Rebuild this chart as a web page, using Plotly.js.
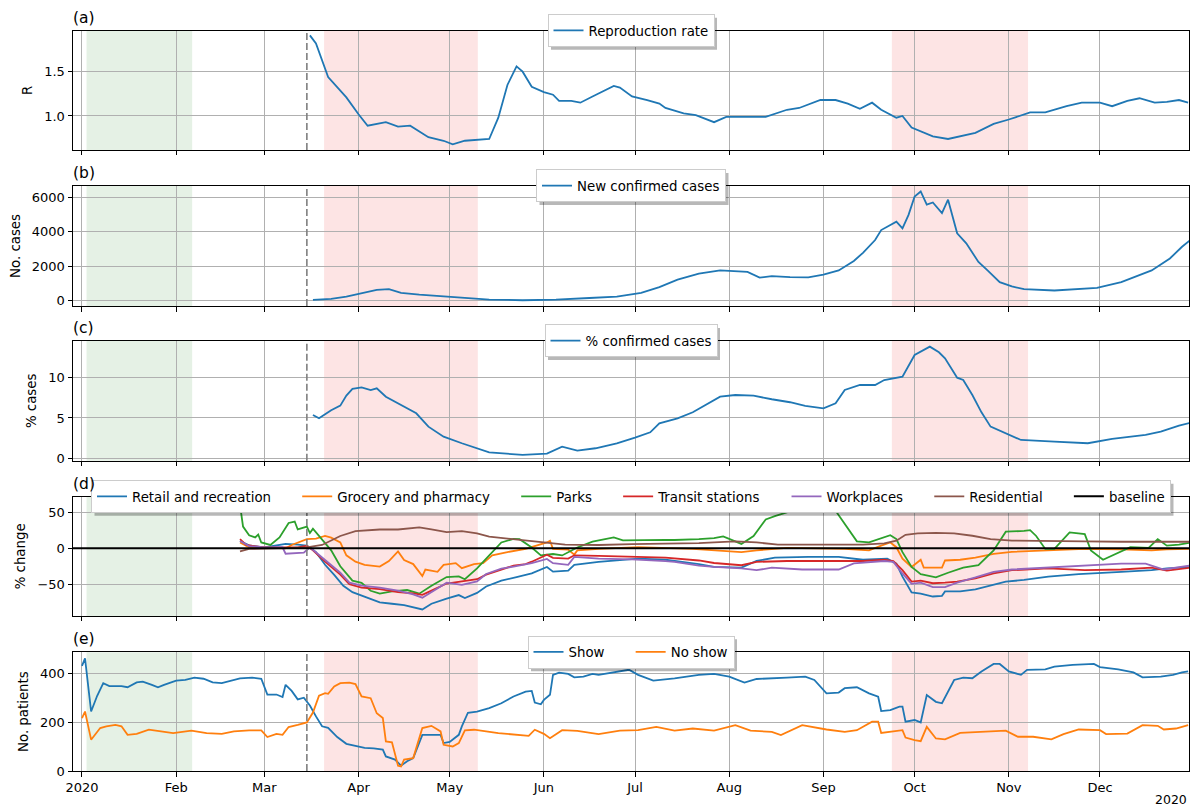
<!DOCTYPE html>
<html><head><meta charset="utf-8">
<script src="https://cdn.plot.ly/plotly-3.0.1.min.js"></script>
<style>html,body{margin:0;padding:0;background:#fff}#chart{width:1194px;height:809px}</style>
</head><body><div id="chart"></div>
<script>
const D = s => '2020-' + s;
// ---------- (a) Reproduction rate ----------
const rDates = ['03-16','03-18','03-22','03-28','04-01','04-04','04-10','04-14','04-18','04-24','04-29','05-02','05-06','05-14','05-17','05-20','05-23','05-25','05-28','06-01','06-04','06-06','06-10','06-13','06-17','06-20','06-24','06-26','06-30','07-05','07-09','07-11','07-17','07-21','07-27','07-31','08-06','08-13','08-20','08-24','08-31','09-05','09-09','09-13','09-17','09-20','09-25','09-27','09-30','10-07','10-12','10-18','10-21','10-27','11-01','11-08','11-13','11-20','11-25','12-01','12-05','12-10','12-14','12-19','12-23','12-27','12-30'];
const rValues = [1.91,1.82,1.44,1.21,1.02,0.89,0.93,0.88,0.89,0.76,0.72,0.68,0.72,0.74,0.98,1.35,1.56,1.50,1.33,1.27,1.24,1.17,1.17,1.15,1.22,1.27,1.34,1.32,1.22,1.18,1.14,1.09,1.03,1.01,0.93,0.99,0.99,0.99,1.07,1.09,1.18,1.18,1.14,1.08,1.15,1.07,0.98,1.00,0.87,0.77,0.74,0.79,0.81,0.91,0.96,1.04,1.04,1.11,1.15,1.15,1.11,1.17,1.20,1.15,1.16,1.18,1.15];
// ---------- (b) New confirmed cases ----------
const casesDates = ['03-17','03-23','03-28','04-03','04-07','04-11','04-15','04-21','04-29','05-06','05-14','05-25','06-05','06-16','06-25','07-03','07-09','07-15','07-22','07-29','08-03','08-07','08-11','08-15','08-21','08-27','09-01','09-06','09-11','09-14','09-18','09-20','09-25','09-27','09-29','10-01','10-03','10-05','10-07','10-10','10-12','10-15','10-18','10-22','10-25','10-29','11-02','11-06','11-16','11-30','12-08','12-18','12-24','12-28','12-31'];
const casesValues = [40,100,230,490,620,660,450,350,250,140,60,20,60,150,230,450,780,1210,1560,1750,1700,1660,1330,1420,1360,1345,1500,1750,2300,2770,3510,4090,4580,4190,4970,6040,6330,5560,5690,5070,5850,3900,3320,2240,1750,1070,820,660,585,740,1070,1750,2440,3120,3550];
// ---------- (c) % confirmed cases ----------
const pctDates = ['03-17','03-19','03-21','03-23','03-26','03-28','03-30','04-02','04-05','04-07','04-10','04-15','04-20','04-24','04-29','05-05','05-14','05-25','06-02','06-07','06-12','06-18','06-25','07-01','07-06','07-09','07-15','07-20','07-24','07-29','08-03','08-09','08-15','08-21','08-26','09-01','09-05','09-08','09-13','09-18','09-21','09-27','10-01','10-06','10-09','10-11','10-15','10-17','10-20','10-23','10-26','10-31','11-05','11-16','11-27','12-05','12-16','12-21','12-27','12-31'];
const pctValues = [5.37,4.96,5.46,5.96,6.53,7.77,8.6,8.8,8.47,8.68,7.64,6.61,5.58,3.92,2.68,1.86,0.74,0.41,0.57,1.44,0.94,1.24,1.86,2.56,3.22,4.34,4.96,5.71,6.61,7.64,7.85,7.77,7.32,6.95,6.49,6.2,6.82,8.47,9.09,9.09,9.71,10.12,12.82,13.85,13.15,12.4,10.0,9.71,7.85,5.7,3.92,3.1,2.27,2.06,1.86,2.4,2.89,3.3,4.04,4.42];
// ---------- (d) Mobility (% change) ----------
const retailDates = ['02-22','02-25','03-01','03-08','03-12','03-15','03-18','03-21','03-24','03-27','03-30','04-03','04-08','04-12','04-16','04-22','04-25','04-30','05-04','05-06','05-10','05-13','05-18','05-23','05-28','06-02','06-04','06-09','06-11','06-19','06-30','07-02','07-11','07-14','07-22','07-27','08-05','08-10','08-16','08-27','09-06','09-14','09-22','09-25','09-27','09-30','10-03','10-07','10-10','10-11','10-16','10-21','10-27','10-31','11-06','11-14','11-24','12-01','12-08','12-18','12-23','12-31'];
const retailValues = [10,4,1,6,5,3.6,-5.4,-23,-37,-52,-61,-67,-75,-77,-79,-85,-77,-70,-65,-69,-62,-53,-45,-40,-35,-26,-32.5,-31,-23,-19,-15,-14.5,-16,-17.7,-22,-26,-27,-17.7,-13,-12,-12,-16,-14.5,-21.4,-39.5,-61.4,-63,-67,-66,-60,-60,-57,-51,-46.4,-44,-39.5,-36,-34,-32.7,-30.5,-28,-26];
const groceryDates = ['02-22','02-25','03-08','03-10','03-15','03-18','03-21','03-23','03-26','03-28','03-31','04-03','04-08','04-11','04-14','04-16','04-19','04-22','04-23','04-27','04-29','05-03','05-05','05-09','05-12','05-15','05-20','05-26','06-02','06-03','06-04','06-09','06-11','06-12','06-19','07-02','07-20','08-05','08-10','08-20','09-08','09-16','09-20','09-23','09-25','09-27','09-30','10-03','10-04','10-10','10-11','10-16','10-21','10-27','11-02','11-14','11-26','12-08','12-18','12-23','12-31'];
const groceryValues = [8,1.3,0,4.5,12.5,13.4,17,14.7,8,-9.8,-18.7,-23,-25.4,-17.8,-4.5,-16.4,-22,-38.6,-29.6,-32.8,-23,-20.7,-27.7,-22,-20.7,-9.8,-5.4,-1,8,10.3,-1,-1.8,-8.9,-3,-1,1.4,-1,-5.5,-3,0.5,-1,-3,3.6,8,1.4,-14.5,-26,-16,-27,-27,-17,-16,-13,-7.7,-5,-3,-1,-1.4,-3,-1.4,-1];
const parksDates = ['02-21','02-22','02-23','02-25','02-27','02-28','02-29','03-03','03-06','03-09','03-11','03-12','03-15','03-16','03-17','03-20','03-23','03-26','03-30','04-02','04-05','04-08','04-12','04-17','04-21','04-25','04-30','05-04','05-06','05-10','05-14','05-18','05-22','05-24','05-28','05-31','06-04','06-07','06-12','06-17','06-24','06-27','07-11','07-14','07-22','07-27','07-30','08-05','08-09','08-13','08-16','08-21','08-27','09-02','09-05','09-08','09-12','09-16','09-19','09-23','09-25','09-27','09-30','10-03','10-08','10-12','10-17','10-22','10-27','10-31','11-06','11-08','11-10','11-13','11-16','11-21','11-26','11-28','12-02','12-05','12-11','12-17','12-20','12-23','12-27','12-31'];
const parksValues = [78,60,30,18,15,19,8,4.5,15,35,37,26,30,21,27,12,-3,-25,-45,-48,-59,-63,-60,-58,-63,-52,-40,-39,-43,-28,-10,8,13,12.5,1,-10,-8,-10,1,9,15,11,11.6,11.4,12.5,14,16.4,6,17,40,44.5,51,53.6,53.6,52,33,9.5,8,12.7,18,12.7,-5.5,-26,-36,-40.5,-34,-27,-23.6,-3,23,24,25,17,-1,-1,22,19.5,-3,-16,-10,1.4,0.5,12.7,3.6,5,8];
const transitDates = ['02-22','02-24','03-01','03-12','03-15','03-17','03-21','03-26','03-29','04-02','04-08','04-14','04-19','04-22','04-25','04-30','05-05','05-10','05-13','05-18','05-22','05-26','05-28','06-02','06-04','06-09','06-11','06-19','06-30','07-11','07-22','07-27','08-05','08-10','08-20','09-02','09-14','09-21','09-24','09-27','09-30','10-03','10-07','10-11','10-15','10-21','10-27','11-02','11-14','11-26','12-08','12-18','12-23','12-31'];
const transitValues = [12.5,4.5,1,1.3,3.6,-3,-18.7,-36.6,-50,-54.6,-56.7,-61,-62.5,-64.7,-58.8,-49,-46,-43,-36.6,-30,-24,-22,-18.7,-9,-13.4,-14.3,-9.8,-10.7,-11.5,-13,-17,-20.5,-23.6,-19,-17.7,-17.7,-17.7,-16,-17.7,-30.5,-46.4,-45,-48.6,-47.7,-46.4,-41.8,-35,-30.5,-28,-30.5,-29.5,-27,-31,-27];
const workDates = ['02-22','02-25','03-01','03-07','03-08','03-14','03-16','03-18','03-21','03-26','03-29','04-02','04-08','04-14','04-19','04-22','04-25','04-30','05-05','05-10','05-13','05-18','05-22','05-28','06-02','06-04','06-09','06-11','06-19','06-30','07-11','07-14','07-22','07-27','08-05','08-10','08-15','08-25','09-06','09-11','09-21','09-24','09-27','09-30','10-03','10-07','10-11','10-15','10-21','10-27','11-02','11-14','11-26','12-08','12-16','12-22','12-31'];
const workValues = [10,3,1,1.3,-7.6,-6.2,1.3,-5.4,-16.4,-34,-47.8,-52,-54.6,-58.8,-64,-68.6,-61,-47.8,-50.8,-46,-35.7,-28.4,-25.4,-20.7,-14.8,-20.7,-23,-12,-14.3,-15.5,-18,-19,-24,-26,-28,-30.5,-27,-29.5,-29.5,-21,-17.7,-19,-35,-49.5,-47.7,-54,-54,-47.7,-40.5,-32.7,-29.5,-27,-23.6,-21.4,-21.4,-29.5,-23.6];
const resDates = ['02-22','02-25','03-08','03-15','03-20','03-26','03-31','04-08','04-14','04-21','04-25','04-30','05-05','05-10','05-14','05-23','06-01','06-08','06-19','06-30','07-11','07-22','07-27','08-03','08-10','08-17','09-02','09-14','09-21','09-25','09-28','10-02','10-08','10-14','10-20','10-26','11-02','11-14','11-26','12-08','12-21','12-31'];
const resValues = [-4.5,-1,0,1.3,4.5,17,23.7,26,26,29,26,22.3,23.7,20.6,16,11.6,8,5,4.5,5.8,6,7,8,9.5,8,5,5,5,6.8,10.5,18.6,20.5,21.4,20.5,17.3,12.7,10.5,9.5,9.5,9,8.6,9];
const baselineDates = ['2019-12-29','2020-12-31'];
const baselineValues = [0, 0];
// ---------- (e) Patients ----------
const showDates = ['01-01','01-02','01-04','01-06','01-08','01-10','01-14','01-16','01-19','01-21','01-24','01-26','01-28','02-01','02-04','02-07','02-10','02-13','02-16','02-19','02-22','02-26','02-29','03-02','03-05','03-07','03-08','03-10','03-12','03-14','03-16','03-18','03-20','03-22','03-25','03-28','03-31','04-03','04-06','04-09','04-10','04-13','04-15','04-17','04-19','04-22','04-28','04-29','05-01','05-04','05-05','05-07','05-10','05-14','05-18','05-22','05-26','05-28','05-29','05-31','06-01','06-03','06-04','06-06','06-09','06-11','06-14','06-17','06-19','06-24','06-29','07-02','07-07','07-14','07-22','07-27','08-01','08-06','08-10','08-20','08-26','08-29','09-02','09-06','09-08','09-12','09-16','09-19','09-20','09-23','09-26','09-27','09-28','10-01','10-03','10-05','10-08','10-10','10-14','10-17','10-20','10-23','10-27','10-29','11-01','11-05','11-07','11-13','11-16','11-22','11-29','12-01','12-07','12-12','12-15','12-21','12-25','12-28','12-30'];
const showValues = [433,464,245,310,362,350,350,345,365,368,355,345,355,372,375,385,380,365,362,372,382,385,380,315,315,305,355,330,295,302,270,225,184,178,140,112,105,95,93,88,60,47,22,40,53,149,149,115,120,149,184,240,245,259,279,307,327,330,282,275,293,314,396,405,400,386,389,400,396,405,417,396,372,382,396,400,389,364,379,385,389,375,320,323,341,345,320,306,247,251,265,265,203,210,200,313,285,279,375,385,382,410,441,441,410,396,417,419,430,437,441,428,419,406,386,389,396,406,410];
const noShowDates = ['01-01','01-02','01-04','01-07','01-09','01-12','01-14','01-16','01-19','01-23','01-27','01-31','02-06','02-11','02-16','02-20','02-25','02-29','03-02','03-05','03-07','03-09','03-12','03-15','03-17','03-19','03-21','03-22','03-24','03-26','03-29','03-31','04-02','04-05','04-07','04-09','04-10','04-12','04-14','04-15','04-16','04-19','04-22','04-25','04-28','04-29','05-02','05-04','05-06','05-09','05-17','05-27','05-29','06-01','06-03','06-07','06-12','06-19','06-26','07-02','07-08','07-14','07-20','07-27','08-03','08-08','08-15','08-18','08-25','08-29','09-02','09-08','09-12','09-17','09-19','09-20','09-27','09-28','10-01','10-03','10-05','10-08','10-11','10-16','10-22','10-28','10-31','11-04','11-09','11-15','11-19','11-24','12-01','12-03','12-10','12-15','12-20','12-22','12-26','12-30'];
const noShowValues = [218,245,129,177,184,190,184,149,153,170,163,156,166,156,153,163,167,167,140,153,149,181,190,200,241,310,321,318,348,362,364,358,307,300,238,218,122,118,22,19,47,53,177,186,163,108,101,115,167,170,156,145,170,153,135,168,165,152,166,168,182,166,175,166,189,166,161,148,189,179,171,161,168,203,203,157,168,138,127,123,182,134,130,157,161,166,166,141,141,130,152,171,168,152,154,189,186,171,175,189];
// ---------- periods / labels ----------
const greenPeriod = ['2020-01-02 12:00', '2020-02-06 06:00'];
const pinkPeriods = [['2020-03-20 16:00', '2020-05-10 06:00'], ['2020-09-23 12:00', '2020-11-07 08:00']];
const markerDate = '2020-03-15';
const monthTicks = ['2020-01-01','2020-02-01','2020-03-01','2020-04-01','2020-05-01','2020-06-01','2020-07-01','2020-08-01','2020-09-01','2020-10-01','2020-11-01','2020-12-01'];
const monthLabels = ['2020','Feb','Mar','Apr','May','Jun','Jul','Aug','Sep','Oct','Nov','Dec'];
const panelLabels = ['(a)','(b)','(c)','(d)','(e)'];
const yTitles = ['R','No. cases','% cases','% change','No. patients'];

const F = 'DejaVu Sans';
const C = ['#1f77b4','#ff7f0e','#2ca02c','#d62728','#9467bd','#8c564b'];
const NB = '\u00a0\u00a0\u00a0\u00a0\u00a0';
const LW = 1.8;
const full = a => a.map(D);

const traces = [
  {x: full(rDates), y: rValues, name: 'Reproduction rate', xaxis:'x', yaxis:'y', legend:'legend', line:{color:C[0], width:LW}},
  {x: full(casesDates), y: casesValues, name: 'New confirmed cases', xaxis:'x2', yaxis:'y2', legend:'legend2', line:{color:C[0], width:LW}},
  {x: full(pctDates), y: pctValues, name: '% confirmed cases', xaxis:'x3', yaxis:'y3', legend:'legend3', line:{color:C[0], width:LW}},
  {x: full(retailDates), y: retailValues, name: 'Retail and recreation' + NB, xaxis:'x4', yaxis:'y4', legend:'legend4', line:{color:C[0], width:LW}},
  {x: full(groceryDates), y: groceryValues, name: 'Grocery and pharmacy' + NB, xaxis:'x4', yaxis:'y4', legend:'legend4', line:{color:C[1], width:LW}},
  {x: full(parksDates), y: parksValues, name: 'Parks' + NB, xaxis:'x4', yaxis:'y4', legend:'legend4', line:{color:C[2], width:LW}},
  {x: full(transitDates), y: transitValues, name: 'Transit stations' + NB, xaxis:'x4', yaxis:'y4', legend:'legend4', line:{color:C[3], width:LW}},
  {x: full(workDates), y: workValues, name: 'Workplaces' + NB, xaxis:'x4', yaxis:'y4', legend:'legend4', line:{color:C[4], width:LW}},
  {x: full(resDates), y: resValues, name: 'Residential' + NB, xaxis:'x4', yaxis:'y4', legend:'legend4', line:{color:C[5], width:LW}},
  {x: baselineDates, y: baselineValues, name: 'baseline', xaxis:'x4', yaxis:'y4', legend:'legend4', line:{color:'#000', width:2}},
  {x: full(showDates), y: showValues, name: 'Show' + NB, xaxis:'x5', yaxis:'y5', legend:'legend5', line:{color:C[0], width:LW}},
  {x: full(noShowDates), y: noShowValues, name: 'No show', xaxis:'x5', yaxis:'y5', legend:'legend5', line:{color:C[1], width:LW}}
];
traces.forEach(t => { t.mode = 'lines'; t.type = 'scatter'; t.hoverinfo = 'skip'; });

const domains = [[0.8381, 0.9991], [0.6275, 0.7895], [0.4188, 0.5803], [0.2092, 0.3702], [0, 0.1602]];
const yRanges = [[0.616, 1.963], [-316, 6646], [-0.3, 14.55], [-94, 71.5], [0, 489]];
const yTicks = [[1.0, 1.5], [0, 2000, 4000, 6000], [0, 5, 10], [-50, 0, 50], [0, 200, 400]];
const yTickText = [['1.0','1.5'], ['0','2000','4000','6000'], ['0','5','10'], ['\u221250','0','50'], ['0','200','400']];
const xRange = ['2019-12-29 01:00', '2020-12-30 07:00'];

const layout = {
  width: 1194, height: 809,
  margin: {l: 73, r: 5, t: 30, b: 38},
  paper_bgcolor: '#fff', plot_bgcolor: 'rgba(0,0,0,0)',
  font: {family: F, size: 13, color: '#000'},
  showlegend: true,
  shapes: [], annotations: []
};
const axisCommon = {
  showline: true, mirror: true, linecolor: '#000', linewidth: 1,
  showgrid: true, gridcolor: '#b0b0b0', gridwidth: 1, zeroline: false,
  ticks: 'outside', ticklen: 4.5, tickwidth: 1, tickcolor: '#000',
  tickfont: {family: F, size: 13, color: '#000'}, automargin: false, fixedrange: true
};
for (let i = 0; i < 5; i++) {
  const sfx = i === 0 ? '' : String(i + 1);
  layout['xaxis' + sfx] = Object.assign({}, axisCommon, {
    type: 'date', range: xRange, anchor: 'y' + sfx, domain: [0, 1],
    tickmode: 'array', tickvals: monthTicks, ticktext: monthLabels,
    showticklabels: i === 4
  });
  layout['yaxis' + sfx] = Object.assign({}, axisCommon, {
    range: yRanges[i], domain: domains[i], anchor: 'x' + sfx,
    tickmode: 'array', tickvals: yTicks[i], ticktext: yTickText[i],
    title: {text: yTitles[i], font: {family: F, size: 13.33, color: '#000'}, standoff: 8}
  });
  const xr = 'x' + sfx, yr = 'y' + sfx + ' domain';
  layout.shapes.push({type:'rect', xref:xr, yref:yr, x0:greenPeriod[0], x1:greenPeriod[1], y0:0, y1:1, fillcolor:'#e5f1e5', line:{width:0}, layer:'below'});
  pinkPeriods.forEach(p => layout.shapes.push({type:'rect', xref:xr, yref:yr, x0:p[0], x1:p[1], y0:0, y1:1, fillcolor:'#fde4e4', line:{width:0}, layer:'below'}));
  layout.shapes.push({type:'line', xref:xr, yref:yr, x0:markerDate, x1:markerDate, y0:0, y1:1, line:{color:'#7f7f7f', width:1.6, dash:'7px,3px'}, layer:'above'});
  layout.annotations.push({text: panelLabels[i], xref:'paper', yref:'paper', x:0, y:domains[i][1], xanchor:'left', yanchor:'bottom', yshift:2, xshift:-2, showarrow:false, font:{family:F, size:15.5, color:'#000'}});
  const lid = i === 0 ? 'legend' : 'legend' + (i + 1);
  layout[lid] = {
    x: 0.5, xanchor: 'center', xref: 'paper', y: domains[i][1], yanchor: 'middle', yref: 'paper',
    orientation: (i >= 3) ? 'h' : 'v', bgcolor: '#ffffff', bordercolor: '#cccccc', borderwidth: 1,
    font: {family: F, size: 13.33, color: '#000'}, itemwidth: 30, tracegroupgap: 0, itemclick: false, itemdoubleclick: false
  };
}
layout.annotations.push({text: '2020', xref:'paper', yref:'paper', x:1, y:0, xanchor:'right', yanchor:'top', yshift:-19, showarrow:false, font:{family:F, size:12.5, color:'#000'}});

Plotly.newPlot('chart', traces, layout, {displayModeBar: false, staticPlot: true}).then(gd => {
  const fl = gd._fullLayout, sz = fl._size;
  const box = gd.getBoundingClientRect();
  const extra = [];
  ['legend','legend2','legend3','legend4','legend5'].forEach(id => {
    const bg = gd.querySelector('g.' + id + ' rect.bg');
    if (!bg) return;
    const r = bg.getBoundingClientRect();
    const off = 3;
    const px = v => (v - box.left - sz.l) / sz.w;
    const py = v => (sz.t + sz.h - (v - box.top)) / sz.h;
    extra.push({type:'rect', xref:'paper', yref:'paper', x0:px(r.left + off), x1:px(r.right + off), y0:py(r.bottom + off), y1:py(r.top + off), fillcolor:'rgba(0,0,0,0.28)', line:{width:0}, layer:'above'});
  });
  Plotly.relayout(gd, {shapes: layout.shapes.concat(extra)});
});
</script></body></html>
